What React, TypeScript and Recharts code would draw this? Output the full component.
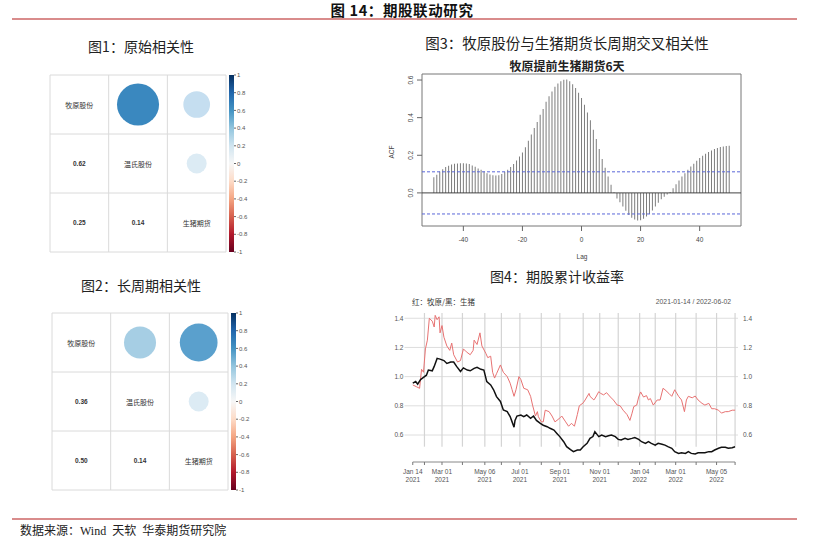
import React from "react";
import {
  ScatterChart,
  Scatter,
  XAxis,
  YAxis,
  ZAxis,
  ReferenceLine,
  ReferenceArea,
  ComposedChart,
  Bar,
  LineChart,
  Line,
} from "recharts";

// ---- correlation matrices ----
const corrNames = ["牧原股份", "温氏股份", "生猪期货"];
const corrPairs = [
  [0, 1],
  [0, 2],
  [1, 2],
];
const corrRaw = [0.62, 0.25, 0.14];
const corrRawColors = ["#3a88bf", "#c5def0", "#dcebf4"];
const corrLong = [0.36, 0.5, 0.14];
const corrLongColors = ["#a6cee4", "#5aa0cd", "#dcebf4"];
const colorbarTicks = [1, 0.8, 0.6, 0.4, 0.2, 0, -0.2, -0.4, -0.6, -0.8, -1];
const rdbuStops = [
  "#053061", "#2166ac", "#4393c3", "#92c5de", "#d1e5f0", "#f7f7f7",
  "#fddbc7", "#f4a582", "#d6604d", "#b2182b", "#67001f",
];

// ---- cross correlation ----
const acfLags = [
  -50, -49, -48, -47, -46, -45, -44, -43, -42, -41, -40, -39, -38, -37, -36, -35, -34,
  -33, -32, -31, -30, -29, -28, -27, -26, -25, -24, -23, -22, -21, -20, -19, -18, -17,
  -16, -15, -14, -13, -12, -11, -10, -9, -8, -7, -6, -5, -4, -3, -2, -1, 0,
  1, 2, 3, 4, 5, 6, 7, 8, 9, 10, 11, 12, 13, 14, 15, 16, 17, 18, 19, 20,
  21, 22, 23, 24, 25, 26, 27, 28, 29, 30, 31, 32, 33, 34, 35, 36, 37, 38, 39, 40,
  41, 42, 43, 44, 45, 46, 47, 48, 49, 50,
];
const acfValues = [
  0.083, 0.096, 0.114, 0.126, 0.137, 0.144, 0.151, 0.155, 0.156, 0.158, 0.158, 0.156, 0.153,
  0.146, 0.139, 0.13, 0.123, 0.114, 0.105, 0.098, 0.094, 0.092, 0.094, 0.101, 0.112, 0.123,
  0.137, 0.153, 0.172, 0.194, 0.215, 0.242, 0.277, 0.311, 0.345, 0.377, 0.416, 0.446, 0.484,
  0.514, 0.539, 0.564, 0.581, 0.594, 0.601, 0.603, 0.594, 0.578, 0.558, 0.532, 0.505,
  0.469, 0.428, 0.386, 0.336, 0.286, 0.233, 0.18, 0.133, 0.087, 0.043, 0.003, -0.03, -0.05,
  -0.072, -0.095, -0.117, -0.132, -0.142, -0.147, -0.145, -0.138, -0.126, -0.112, -0.094,
  -0.073, -0.052, -0.034, -0.02, -0.009, 0.005, 0.025, 0.046, 0.066, 0.087, 0.105, 0.123,
  0.14, 0.155, 0.171, 0.185, 0.197, 0.208, 0.217, 0.226, 0.233, 0.238, 0.244, 0.247, 0.249,
  0.251,
];
const acfBand = 0.112;

// ---- cumulative returns (trading-day index from 2021-01-14) ----
const muyuanDays = [
  0, 4, 7, 9, 11, 13, 15, 17, 20, 22, 23, 25, 27, 28, 30, 32, 35, 38, 40, 42, 46, 49, 52, 55,
  59, 62, 63, 66, 69, 71, 75, 77, 80, 82, 84, 86, 90, 93, 97, 100, 102, 104, 106, 109, 111,
  114, 118, 121, 123, 126, 128, 129, 132, 134, 136, 140, 143, 146, 150, 153, 157, 160, 163,
  166, 169, 171, 175, 177, 181, 182, 186, 188, 191, 193, 196, 199, 203, 206, 210, 213, 216,
  220, 223, 225, 227, 230, 232, 234, 237, 240, 242, 244, 247, 251, 254, 257, 259, 263, 266,
  269, 273, 276, 279, 281, 283, 287, 290, 293, 297, 300, 304, 307, 310, 314, 317, 321, 324,
  328, 331,
];
const muyuanValues = [
  0.943, 0.93, 0.92, 1.05, 1.03, 1.19, 1.25, 1.4, 1.38, 1.34, 1.42, 1.39, 1.41, 1.3, 1.35,
  1.27, 1.21, 1.18, 1.23, 1.15, 1.1, 1.11, 1.19, 1.17, 1.15, 1.18, 1.25, 1.22, 1.3, 1.21,
  1.16, 1.13, 1.14, 1.03, 0.99, 1.02, 1.08, 1.03, 1.0, 0.955, 0.91, 0.865, 0.91, 1.0, 0.98,
  0.92, 0.91, 0.865, 0.805, 0.73, 0.76, 0.725, 0.69, 0.69, 0.77, 0.76, 0.73, 0.69, 0.71,
  0.73, 0.69, 0.66, 0.68, 0.66, 0.74, 0.8, 0.82, 0.84, 0.885, 0.865, 0.84, 0.86, 0.897,
  0.885, 0.875, 0.89, 0.86, 0.84, 0.805, 0.8, 0.77, 0.74, 0.7, 0.745, 0.795, 0.805, 0.86,
  0.895, 0.86, 0.87, 0.84, 0.85, 0.805, 0.84, 0.84, 0.92, 0.91, 0.885, 0.865, 0.91, 0.865,
  0.84, 0.76, 0.84, 0.865, 0.855, 0.867, 0.84, 0.817, 0.805, 0.817, 0.78, 0.78, 0.77, 0.75,
  0.76, 0.76, 0.77, 0.77,
];
const hogDays = [
  0, 3, 5, 8, 11, 14, 16, 20, 22, 25, 28, 32, 35, 39, 42, 45, 49, 52, 56, 59, 63, 66, 70, 73,
  76, 80, 83, 86, 90, 93, 97, 100, 102, 104, 105, 107, 111, 114, 117, 121, 124, 127, 131,
  134, 138, 141, 145, 148, 151, 155, 158, 162, 165, 169, 172, 175, 179, 182, 185, 187, 191,
  194, 198, 201, 204, 208, 211, 214, 218, 221, 225, 228, 232, 235, 239, 242, 245, 249, 252,
  256, 259, 262, 266, 269, 273, 276, 280, 283, 286, 290, 293, 297, 300, 304, 307, 310, 314,
  317, 321, 324, 328, 331,
];
const hogValues = [
  0.955, 0.966, 0.948, 0.98, 0.995, 1.01, 1.045, 1.04, 1.07, 1.125, 1.12, 1.11, 1.09, 1.1,
  1.1, 1.07, 1.035, 1.06, 1.045, 1.04, 1.057, 1.064, 1.05, 1.045, 0.966, 0.943, 0.91, 0.863,
  0.83, 0.771, 0.76, 0.726, 0.69, 0.653, 0.7, 0.73, 0.737, 0.726, 0.737, 0.714, 0.73, 0.7,
  0.68, 0.667, 0.657, 0.646, 0.634, 0.611, 0.589, 0.554, 0.52, 0.5, 0.486, 0.497, 0.497,
  0.52, 0.543, 0.577, 0.589, 0.623, 0.589, 0.6, 0.589, 0.595, 0.6, 0.589, 0.57, 0.566,
  0.577, 0.57, 0.577, 0.583, 0.57, 0.554, 0.543, 0.554, 0.543, 0.531, 0.543, 0.537, 0.531,
  0.52, 0.509, 0.486, 0.474, 0.478, 0.474, 0.486, 0.474, 0.47, 0.478, 0.478, 0.479, 0.486,
  0.486, 0.497, 0.509, 0.516, 0.516, 0.509, 0.513, 0.52,
];
const monthDays = [0, 12, 30, 51, 74, 91, 110, 132, 151, 175, 192, 211, 233, 249, 270, 291, 312, 331];
const gridDays = [12, 30, 51, 74, 91, 110, 132, 151, 175, 192, 211, 233, 249, 270, 291, 312, 331];
const dateLabels: Record<number, [string, string]> = {
  0: ["Jan 14", "2021"],
  30: ["Mar 01", "2021"],
  74: ["May 06", "2021"],
  110: ["Jul 01", "2021"],
  151: ["Sep 01", "2021"],
  192: ["Nov 01", "2021"],
  233: ["Jan 04", "2022"],
  270: ["Mar 01", "2022"],
  312: ["May 05", "2022"],
};
const retTicks = [0.6, 0.8, 1.0, 1.2, 1.4];

const sans = "'Liberation Sans', Arial, sans-serif";
const cjk = "'Noto Sans CJK SC', sans-serif";

function Txt({ x, y, size, children, weight = 400, color = "#222", anchor = "middle", family = cjk, rotate = 0, spacing = 0 }: any) {
  const tx = anchor === "middle" ? "-50%" : anchor === "end" ? "-100%" : "0";
  return (
    <div
      style={{
        position: "absolute",
        left: x,
        top: y,
        transform: `translate(${tx}, -50%) rotate(${rotate}deg)`,
        fontSize: size,
        fontWeight: weight,
        color,
        fontFamily: family,
        whiteSpace: "pre",
        lineHeight: 1,
        letterSpacing: spacing,
      }}
    >
      {children}
    </div>
  );
}

function CorrPanel({ values, colors, left, top, gid }: any) {
  const circles = corrPairs.map(([r, c], i) => ({
    x: c + 0.5,
    y: r + 0.5,
    z: Math.abs(values[i]),
    fill: colors[i],
  }));
  const labels = [
    ...corrNames.map((n, i) => ({ x: i + 0.5, y: i + 0.5, text: n, bold: false })),
    ...corrPairs.map(([r, c], i) => ({ x: r + 0.5, y: c + 0.5, text: values[i].toFixed(2), bold: true })),
  ];
  const lines = [0, 1, 2, 3];
  return (
    <div style={{ position: "absolute", left, top }}>
      <ScatterChart width={220} height={200} margin={{ top: 10, right: 0, bottom: 13, left: 10 }}>
        <defs>
          <linearGradient id={gid} x1="0" y1="0" x2="0" y2="1">
            {rdbuStops.map((c, i) => (
              <stop key={i} offset={`${i * 10}%`} stopColor={c} />
            ))}
          </linearGradient>
        </defs>
        <XAxis type="number" dataKey="x" domain={[0, 3.136]} hide allowDataOverflow />
        <YAxis yAxisId="m" type="number" dataKey="y" domain={[0, 3]} reversed hide allowDataOverflow />
        <YAxis
          yAxisId="c"
          orientation="right"
          type="number"
          domain={[-1, 1]}
          ticks={colorbarTicks}
          width={26}
          axisLine={false}
          tickSize={2}
          tickMargin={1}
          tickLine={{ stroke: "#666" }}
          tick={{ fontSize: 6, fill: "#555", fontFamily: sans }}
          tickFormatter={(v: number) => String(v)}
          allowDataOverflow
          interval={0}
        />
        <ZAxis type="number" dataKey="z" domain={[0, 1]} range={[0, 2240]} />
        {lines.map((k) => (
          <ReferenceLine
            key={`h${k}`}
            yAxisId="m"
            ifOverflow="visible"
            segment={[{ x: 0, y: k }, { x: 3, y: k }]}
            stroke="#dadada"
          />
        ))}
        {lines.map((k) => (
          <ReferenceLine
            key={`v${k}`}
            yAxisId="m"
            ifOverflow="visible"
            segment={[{ x: k, y: 0 }, { x: k, y: 3 }]}
            stroke="#dadada"
          />
        ))}
        <ReferenceArea
          yAxisId="c"
          x1={3.051}
          x2={3.136}
          y1={-1}
          y2={1}
          ifOverflow="visible"
          fill={`url(#${gid})`}
          fillOpacity={1}
          stroke="none"
        />
        <Scatter
          yAxisId="m"
          data={circles}
          isAnimationActive={false}
          shape={(p: any) => <circle cx={p.cx} cy={p.cy} r={p.width / 2} fill={p.payload.fill} />}
        />
        <Scatter
          yAxisId="m"
          data={labels}
          isAnimationActive={false}
          shape={(p: any) => (
            <text
              x={p.cx}
              y={p.cy}
              textAnchor="middle"
              dominantBaseline="central"
              fontSize={p.payload.bold ? 6.5 : 7}
              fontWeight={p.payload.bold ? 700 : 400}
              fontFamily={p.payload.bold ? sans : cjk}
              fill="#333"
            >
              {p.payload.text}
            </text>
          )}
        />
      </ScatterChart>
    </div>
  );
}

const RotTick = (p: any) => (
  <text
    x={p.x}
    y={p.y}
    transform={`rotate(-90 ${p.x} ${p.y})`}
    textAnchor="middle"
    fontSize={6.5}
    fontFamily={sans}
    fill="#444"
  >
    {Number(p.payload.value).toFixed(1)}
  </text>
);

function AcfPanel() {
  const data = acfLags.map((lag, i) => ({ lag, acf: acfValues[i] }));
  return (
    <div style={{ position: "absolute", left: 380, top: 60 }}>
      <ComposedChart width={380} height={210} data={data} margin={{ top: 14, right: 19, bottom: 14, left: 12 }}>
        <XAxis
          dataKey="lag"
          type="number"
          domain={[-54, 54]}
          ticks={[-40, -20, 0, 20, 40]}
          allowDataOverflow
          axisLine={false}
          tickSize={5}
          tickMargin={6}
          tickLine={{ stroke: "#666" }}
          tick={{ fontSize: 6.5, fill: "#444", fontFamily: sans }}
          height={30}
        />
        <YAxis
          type="number"
          domain={[-0.176, 0.632]}
          ticks={[0, 0.2, 0.4, 0.6]}
          allowDataOverflow
          width={30}
          axisLine={false}
          tickSize={5}
          tickMargin={4}
          tickLine={{ stroke: "#666" }}
          tick={<RotTick />}
        />
        <ReferenceArea x1={-54} x2={54} y1={-0.176} y2={0.632} ifOverflow="visible" fill="none" stroke="#777" />
        <ReferenceLine y={acfBand} stroke="#5b68d9" strokeDasharray="3 2" />
        <ReferenceLine y={-acfBand} stroke="#5b68d9" strokeDasharray="3 2" />
        <Bar dataKey="acf" barSize={1} fill="#7c7c7c" isAnimationActive={false} />
        <ReferenceLine y={0} stroke="#444" />
      </ComposedChart>
    </div>
  );
}

const DateTick = (p: any) => {
  const v = p.payload.value;
  const lab = dateLabels[v];
  return (
    <g>
      <line x1={p.x} y1={p.y} x2={p.x} y2={p.y + 3} stroke="#777" />
      {lab && (
        <text x={p.x} textAnchor="middle" fontSize={6.5} fontFamily={sans} fill="#555">
          <tspan x={p.x} y={p.y + 12}>{lab[0]}</tspan>
          <tspan x={p.x} y={p.y + 20}>{lab[1]}</tspan>
        </text>
      )}
    </g>
  );
};

function ReturnPanel() {
  const red = muyuanDays.map((d, i) => ({ d, v: muyuanValues[i] }));
  const black = hogDays.map((d, i) => ({ d, v: hogValues[i] }));
  return (
    <div style={{ position: "absolute", left: 380, top: 300 }}>
      <LineChart width={380} height={190} margin={{ top: 13, right: 2, bottom: 4, left: 4.5 }}>
        <XAxis
          type="number"
          dataKey="d"
          domain={[-8.5, 334]}
          ticks={monthDays}
          interval={0}
          allowDataOverflow
          axisLine={false}
          tickLine={false}
          tickSize={0}
          tickMargin={0}
          tick={<DateTick />}
          height={24}
        />
        <YAxis
          yAxisId="l"
          type="number"
          domain={[0.415, 1.436]}
          ticks={retTicks}
          allowDataOverflow
          width={20}
          axisLine={false}
          tickLine={false}
          tickSize={0}
          tickMargin={1}
          tick={{ fontSize: 6.5, fill: "#555", fontFamily: sans }}
          tickFormatter={(v: number) => v.toFixed(1)}
        />
        <YAxis
          yAxisId="r"
          orientation="right"
          type="number"
          domain={[0.415, 1.436]}
          ticks={retTicks}
          allowDataOverflow
          width={20}
          axisLine={false}
          tickLine={false}
          tickSize={0}
          tickMargin={5}
          tick={{ fontSize: 6.5, fill: "#555", fontFamily: sans }}
          tickFormatter={(v: number) => v.toFixed(1)}
        />
        {retTicks.map((v) => (
          <ReferenceLine key={`g${v}`} yAxisId="l" y={v} stroke="#dedede" />
        ))}
        {gridDays.map((d) => (
          <ReferenceLine
            key={`m${d}`}
            yAxisId="l"
            ifOverflow="visible"
            segment={[{ x: d, y: 0.52 }, { x: d, y: 1.436 }]}
            stroke="#d4d4d4"
            strokeWidth={1.2}
          />
        ))}
        <ReferenceLine
          yAxisId="l"
          ifOverflow="visible"
          segment={[{ x: 0, y: 0.415 }, { x: 331, y: 0.415 }]}
          stroke="#888"
        />
        <Line
          yAxisId="l"
          data={red}
          dataKey="v"
          type="linear"
          stroke="#e77272"
          strokeWidth={1}
          dot={false}
          isAnimationActive={false}
        />
        <Line
          yAxisId="l"
          data={black}
          dataKey="v"
          type="linear"
          stroke="#111"
          strokeWidth={1.5}
          dot={false}
          isAnimationActive={false}
        />
      </LineChart>
    </div>
  );
}

export default function App() {
  return (
    <div
      style={{
        position: "absolute",
        left: 0,
        top: 0,
        width: 816,
        height: 546,
        background: "#fff",
        overflow: "hidden",
        fontFamily: cjk,
      }}
    >
      <Txt x={402} y={10} size={14.5} weight={700} color="#111" spacing={0.6}>
        图 14：期股联动研究
      </Txt>
      <div style={{ position: "absolute", left: 12, top: 18, width: 785, height: 2, background: "#d98c8c" }} />
      <div style={{ position: "absolute", left: 12, top: 518, width: 785, height: 2, background: "#d98c8c" }} />
      <Txt x={20} y={531} size={12} anchor="start" color="#222" family={"'Liberation Serif', 'Noto Sans CJK SC', serif"}>
        数据来源：Wind  天软  华泰期货研究院
      </Txt>

      <Txt x={141} y={46} size={14}>图1：原始相关性</Txt>
      <Txt x={141} y={285} size={14}>图2：长周期相关性</Txt>
      <Txt x={567} y={43} size={14.5}>图3：牧原股份与生猪期货长周期交叉相关性</Txt>
      <Txt x={557} y={276} size={14}>图4：期股累计收益率</Txt>

      <CorrPanel values={corrRaw} colors={corrRawColors} left={40} top={65} gid="rdbu1" />
      <CorrPanel values={corrLong} colors={corrLongColors} left={42} top={303} gid="rdbu2" />

      <Txt x={567} y={66} size={12} weight={700} color="#222">牧原提前生猪期货6天</Txt>
      <AcfPanel />
      <Txt x={392} y={152} size={6.5} rotate={-90} family={sans} color="#444">ACF</Txt>
      <Txt x={582} y={257} size={6.5} family={sans} color="#444">Lag</Txt>

      <Txt x={412} y={302} size={7.5} anchor="start" color="#333">红：牧原/黑：生猪</Txt>
      <Txt x={731} y={302} size={6.8} anchor="end" family={sans} color="#555">2021-01-14 / 2022-06-02</Txt>
      <ReturnPanel />
    </div>
  );
}
